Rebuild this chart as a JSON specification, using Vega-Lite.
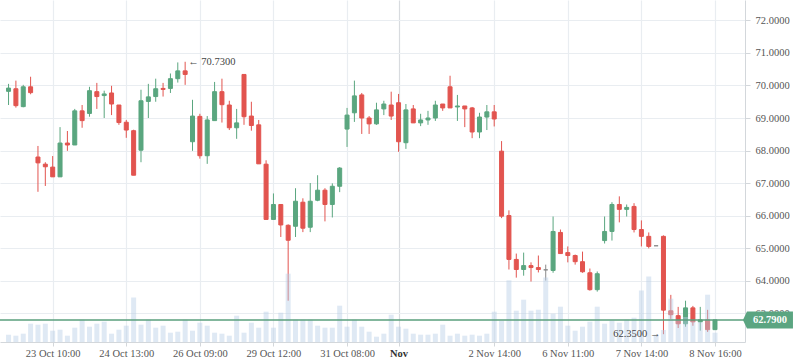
{
  "$schema": "https://vega.github.io/schema/vega-lite/v6.json",
  "width": 745,
  "height": 342,
  "autosize": {"type": "none"},
  "padding": {"left": 0, "top": 0, "right": 53, "bottom": 21},
  "background": "white",
  "config": {"view": {"stroke": null}, "font": "Liberation Serif"},
  "data": {"values": [
    {"i":0,"o":69.82,"h":70.05,"l":69.40,"c":69.92,"v":7.3},
    {"i":1,"o":69.90,"h":70.15,"l":69.32,"c":69.38,"v":6.3},
    {"i":2,"o":69.35,"h":70.02,"l":69.33,"c":69.96,"v":8.3},
    {"i":3,"o":69.96,"h":70.27,"l":69.73,"c":69.78,"v":18.3},
    {"i":4,"o":67.80,"h":68.14,"l":66.73,"c":67.62,"v":17.3},
    {"i":5,"o":67.58,"h":67.64,"l":66.91,"c":67.50,"v":18.3},
    {"i":6,"o":67.49,"h":67.83,"l":67.19,"c":67.19,"v":11.3},
    {"i":7,"o":67.19,"h":68.72,"l":67.19,"c":68.23,"v":12.3},
    {"i":8,"o":68.23,"h":68.60,"l":67.99,"c":68.17,"v":6.3},
    {"i":9,"o":68.17,"h":69.28,"l":68.17,"c":69.22,"v":14.3},
    {"i":10,"o":69.22,"h":69.40,"l":68.70,"c":68.92,"v":22.3},
    {"i":11,"o":69.14,"h":69.96,"l":69.04,"c":69.84,"v":15.3},
    {"i":12,"o":69.81,"h":70.08,"l":69.28,"c":69.66,"v":18.3},
    {"i":13,"o":69.69,"h":69.84,"l":69.00,"c":69.74,"v":20.3},
    {"i":14,"o":69.77,"h":69.99,"l":69.09,"c":69.43,"v":8.3},
    {"i":15,"o":69.40,"h":69.40,"l":68.79,"c":68.86,"v":12.3},
    {"i":16,"o":68.87,"h":68.94,"l":68.39,"c":68.63,"v":16.3},
    {"i":17,"o":68.61,"h":68.64,"l":67.24,"c":67.24,"v":44.5},
    {"i":18,"o":68.01,"h":69.87,"l":67.64,"c":69.53,"v":17.3},
    {"i":19,"o":69.51,"h":70.05,"l":69.00,"c":69.65,"v":22.3},
    {"i":20,"o":69.66,"h":70.21,"l":69.50,"c":69.90,"v":14.3},
    {"i":21,"o":69.91,"h":70.08,"l":69.66,"c":69.88,"v":16.3},
    {"i":22,"o":69.91,"h":70.37,"l":69.77,"c":70.21,"v":9.3},
    {"i":23,"o":70.21,"h":70.71,"l":70.09,"c":70.45,"v":10.3},
    {"i":24,"o":70.45,"h":70.73,"l":70.02,"c":70.34,"v":22.3},
    {"i":25,"o":68.27,"h":69.56,"l":67.99,"c":69.06,"v":11.3},
    {"i":26,"o":69.05,"h":69.13,"l":67.75,"c":67.84,"v":19.3},
    {"i":27,"o":67.84,"h":69.06,"l":67.59,"c":68.94,"v":16.3},
    {"i":28,"o":68.92,"h":70.11,"l":68.92,"c":69.81,"v":9.3},
    {"i":29,"o":69.81,"h":70.21,"l":68.86,"c":69.41,"v":8.3},
    {"i":30,"o":69.40,"h":69.53,"l":68.63,"c":68.70,"v":6.3},
    {"i":31,"o":68.70,"h":69.28,"l":68.36,"c":68.85,"v":26.3},
    {"i":32,"o":70.34,"h":70.34,"l":68.79,"c":69.04,"v":9.3},
    {"i":33,"o":69.06,"h":69.50,"l":68.61,"c":68.77,"v":19.3},
    {"i":34,"o":68.79,"h":68.94,"l":67.59,"c":67.59,"v":14.3},
    {"i":35,"o":67.58,"h":67.70,"l":65.88,"c":65.88,"v":30.3},
    {"i":36,"o":65.88,"h":66.68,"l":65.88,"c":66.34,"v":14.3},
    {"i":37,"o":66.34,"h":66.34,"l":65.34,"c":65.71,"v":29.3},
    {"i":38,"o":65.70,"h":65.73,"l":63.38,"c":65.24,"v":68.3},
    {"i":39,"o":65.67,"h":66.84,"l":65.34,"c":66.44,"v":22.3},
    {"i":40,"o":66.41,"h":66.53,"l":65.49,"c":65.61,"v":22.3},
    {"i":41,"o":65.64,"h":67.00,"l":65.49,"c":66.44,"v":22.3},
    {"i":42,"o":66.47,"h":67.24,"l":66.44,"c":66.78,"v":16.3},
    {"i":43,"o":66.78,"h":66.84,"l":65.82,"c":66.34,"v":14.3},
    {"i":44,"o":66.34,"h":66.99,"l":65.94,"c":66.90,"v":14.3},
    {"i":45,"o":66.90,"h":67.49,"l":66.72,"c":67.46,"v":36.3},
    {"i":46,"o":68.66,"h":69.31,"l":68.11,"c":69.09,"v":15.3},
    {"i":47,"o":69.16,"h":70.15,"l":68.88,"c":69.68,"v":22.3},
    {"i":48,"o":69.71,"h":69.77,"l":68.51,"c":69.00,"v":15.3},
    {"i":49,"o":69.00,"h":69.06,"l":68.51,"c":68.82,"v":10.3},
    {"i":50,"o":68.82,"h":69.47,"l":68.79,"c":69.25,"v":5.3},
    {"i":51,"o":69.28,"h":69.53,"l":69.09,"c":69.43,"v":8.3},
    {"i":52,"o":69.40,"h":69.81,"l":68.94,"c":69.06,"v":27.3},
    {"i":53,"o":69.47,"h":69.74,"l":67.96,"c":68.27,"v":15.3},
    {"i":54,"o":68.24,"h":69.43,"l":68.05,"c":69.25,"v":13.3},
    {"i":55,"o":69.28,"h":69.40,"l":68.85,"c":68.85,"v":8.3},
    {"i":56,"o":68.85,"h":69.13,"l":68.75,"c":68.94,"v":7.3},
    {"i":57,"o":68.94,"h":69.22,"l":68.79,"c":69.00,"v":7.3},
    {"i":58,"o":69.00,"h":69.53,"l":68.91,"c":69.40,"v":8.3},
    {"i":59,"o":69.43,"h":69.43,"l":69.22,"c":69.31,"v":17.3},
    {"i":60,"o":69.96,"h":70.30,"l":69.31,"c":69.31,"v":6.3},
    {"i":61,"o":69.34,"h":69.71,"l":68.91,"c":69.37,"v":8.3},
    {"i":62,"o":69.37,"h":69.37,"l":68.72,"c":69.28,"v":6.3},
    {"i":63,"o":69.31,"h":69.34,"l":68.38,"c":68.57,"v":7.3},
    {"i":64,"o":68.57,"h":69.16,"l":68.38,"c":69.03,"v":6.3},
    {"i":65,"o":69.03,"h":69.40,"l":68.63,"c":69.19,"v":8.3},
    {"i":66,"o":69.19,"h":69.40,"l":68.74,"c":68.97,"v":30.3},
    {"i":67,"o":67.98,"h":68.29,"l":65.92,"c":65.98,"v":21.3},
    {"i":68,"o":66.00,"h":66.16,"l":64.34,"c":64.65,"v":61.7},
    {"i":69,"o":64.65,"h":64.83,"l":64.09,"c":64.34,"v":31.3},
    {"i":70,"o":64.34,"h":64.86,"l":64.15,"c":64.46,"v":42.3},
    {"i":71,"o":64.46,"h":64.56,"l":63.97,"c":64.40,"v":31.3},
    {"i":72,"o":64.40,"h":64.77,"l":64.25,"c":64.34,"v":32.3},
    {"i":73,"o":64.33,"h":64.49,"l":64.00,"c":64.33,"v":64.5},
    {"i":74,"o":64.31,"h":65.97,"l":64.24,"c":65.51,"v":28.3},
    {"i":75,"o":65.48,"h":65.57,"l":64.83,"c":64.83,"v":35.3},
    {"i":76,"o":64.86,"h":65.05,"l":64.56,"c":64.77,"v":16.3},
    {"i":77,"o":64.77,"h":64.80,"l":64.49,"c":64.58,"v":11.3},
    {"i":78,"o":64.58,"h":64.89,"l":64.24,"c":64.27,"v":15.3},
    {"i":79,"o":64.24,"h":64.37,"l":63.69,"c":63.72,"v":20.3},
    {"i":80,"o":63.72,"h":64.28,"l":63.66,"c":64.21,"v":35.3},
    {"i":81,"o":65.23,"h":65.97,"l":65.14,"c":65.51,"v":18.3},
    {"i":82,"o":65.51,"h":66.41,"l":65.23,"c":66.34,"v":21.3},
    {"i":83,"o":66.34,"h":66.59,"l":65.79,"c":66.19,"v":19.3},
    {"i":84,"o":66.19,"h":66.34,"l":65.97,"c":66.25,"v":22.3},
    {"i":85,"o":66.28,"h":66.38,"l":65.48,"c":65.57,"v":24.3},
    {"i":86,"o":65.57,"h":65.85,"l":65.05,"c":65.36,"v":51.5},
    {"i":87,"o":65.36,"h":65.48,"l":64.99,"c":65.05,"v":65.5},
    {"i":88,"o":65.07,"h":65.07,"l":65.07,"c":65.07,"v":7.3},
    {"i":89,"o":65.36,"h":65.39,"l":62.35,"c":63.09,"v":12},
    {"i":90,"o":63.07,"h":63.56,"l":62.82,"c":62.95,"v":43.3},
    {"i":91,"o":62.92,"h":63.19,"l":62.54,"c":62.67,"v":22},
    {"i":92,"o":62.67,"h":63.38,"l":62.58,"c":63.16,"v":25},
    {"i":93,"o":63.16,"h":63.22,"l":62.61,"c":62.73,"v":21},
    {"i":94,"o":62.73,"h":63.19,"l":62.46,"c":62.79,"v":20},
    {"i":95,"o":62.79,"h":63.10,"l":62.42,"c":62.49,"v":47.3},
    {"i":96,"o":62.49,"h":62.79,"l":62.49,"c":62.79,"v":9.3}
  ]},
  "layer": [
    {
      "mark": {"type": "rule", "strokeWidth": 1},
      "encoding": {
        "x": {"field": "i", "type": "quantitative",
          "scale": {"domain": [-0.48, 99.4], "nice": false, "zero": false},
          "axis": {
            "values": [6, 16, 26, 36, 46, 53, 66, 76, 86, 96],
            "labelExpr": "datum.value==6?'23 Oct 10:00':datum.value==16?'24 Oct 13:00':datum.value==26?'26 Oct 09:00':datum.value==36?'29 Oct 12:00':datum.value==46?'31 Oct 08:00':datum.value==53?'Nov':datum.value==66?'2 Nov 14:00':datum.value==76?'6 Nov 11:00':datum.value==86?'7 Nov 14:00':datum.value==96?'8 Nov 16:00':''",
            "title": null,
            "grid": true,
            "gridColor": {"condition": {"test": "datum.value==53", "value": "#d8dbdf"}, "value": "#e9edf1"},
            "gridWidth": 1.2,
            "labelFontWeight": {"condition": {"test": "datum.value==53", "value": "bold"}, "value": "normal"},
            "labelColor": {"condition": {"test": "datum.value==53", "value": "#333333"}, "value": "#555555"},
            "labelFont": "Liberation Serif",
            "labelFontSize": 10.5,
            "labelPadding": 2,
            "labelOverlap": false,
            "labelFlush": false,
            "domainColor": "#d3d7db",
            "tickColor": "#d3d7db",
            "tickSize": 4
          }
        },
        "y": {"field": "l", "type": "quantitative",
          "scale": {"domain": [62.11, 72.63], "nice": false, "zero": false},
          "axis": {
            "orient": "right",
            "values": [63, 64, 65, 66, 67, 68, 69, 70, 71, 72],
            "format": ".4f",
            "title": null,
            "grid": true,
            "gridColor": "#e9edf1",
            "gridWidth": 1.2,
            "labelColor": "#555555",
            "labelFont": "Liberation Serif",
            "labelFontSize": 10.5,
            "labelPadding": 5,
            "domainColor": "#d3d7db",
            "tickColor": "#d3d7db",
            "tickSize": 5
          }
        },
        "y2": {"field": "h"},
        "color": {
          "condition": [
            {"test": "datum.c > datum.o", "value": "#5aa67f"},
            {"test": "datum.c == datum.o", "value": "#8a8a8a"}
          ],
          "value": "#e2544f"
        }
      }
    },
    {
      "mark": {"type": "bar", "size": 4, "strokeWidth": 1},
      "encoding": {
        "x": {"field": "i", "type": "quantitative",
          "scale": {"domain": [-0.48, 99.4], "nice": false, "zero": false},
          "axis": {
            "values": [6, 16, 26, 36, 46, 53, 66, 76, 86, 96],
            "labelExpr": "datum.value==6?'23 Oct 10:00':datum.value==16?'24 Oct 13:00':datum.value==26?'26 Oct 09:00':datum.value==36?'29 Oct 12:00':datum.value==46?'31 Oct 08:00':datum.value==53?'Nov':datum.value==66?'2 Nov 14:00':datum.value==76?'6 Nov 11:00':datum.value==86?'7 Nov 14:00':datum.value==96?'8 Nov 16:00':''",
            "title": null,
            "grid": true,
            "gridColor": {"condition": {"test": "datum.value==53", "value": "#d8dbdf"}, "value": "#e9edf1"},
            "gridWidth": 1.2,
            "labelFontWeight": {"condition": {"test": "datum.value==53", "value": "bold"}, "value": "normal"},
            "labelColor": {"condition": {"test": "datum.value==53", "value": "#333333"}, "value": "#555555"},
            "labelFont": "Liberation Serif",
            "labelFontSize": 10.5,
            "labelPadding": 2,
            "labelOverlap": false,
            "labelFlush": false,
            "domainColor": "#d3d7db",
            "tickColor": "#d3d7db",
            "tickSize": 4
          }
        },
        "y": {"field": "o", "type": "quantitative",
          "scale": {"domain": [62.11, 72.63], "nice": false, "zero": false}, "axis": null},
        "y2": {"field": "c"},
        "fill": {
          "condition": [
            {"test": "datum.c > datum.o", "value": "#5aa67f"},
            {"test": "datum.c == datum.o", "value": "#8a8a8a"}
          ],
          "value": "#e2544f"
        },
        "stroke": {
          "condition": [
            {"test": "datum.c > datum.o", "value": "#5aa67f"},
            {"test": "datum.c == datum.o", "value": "#8a8a8a"}
          ],
          "value": "#e2544f"
        }
      }
    },
    {
      "mark": {"type": "bar", "size": 5, "fill": "#b8cfe6", "fillOpacity": 0.45},
      "encoding": {
        "x": {"field": "i", "type": "quantitative",
          "scale": {"domain": [-0.48, 99.4], "nice": false, "zero": false},
          "axis": {
            "values": [6, 16, 26, 36, 46, 53, 66, 76, 86, 96],
            "labelExpr": "datum.value==6?'23 Oct 10:00':datum.value==16?'24 Oct 13:00':datum.value==26?'26 Oct 09:00':datum.value==36?'29 Oct 12:00':datum.value==46?'31 Oct 08:00':datum.value==53?'Nov':datum.value==66?'2 Nov 14:00':datum.value==76?'6 Nov 11:00':datum.value==86?'7 Nov 14:00':datum.value==96?'8 Nov 16:00':''",
            "title": null,
            "grid": true,
            "gridColor": {"condition": {"test": "datum.value==53", "value": "#d8dbdf"}, "value": "#e9edf1"},
            "gridWidth": 1.2,
            "labelFontWeight": {"condition": {"test": "datum.value==53", "value": "bold"}, "value": "normal"},
            "labelColor": {"condition": {"test": "datum.value==53", "value": "#333333"}, "value": "#555555"},
            "labelFont": "Liberation Serif",
            "labelFontSize": 10.5,
            "labelPadding": 2,
            "labelOverlap": false,
            "labelFlush": false,
            "domainColor": "#d3d7db",
            "tickColor": "#d3d7db",
            "tickSize": 4
          }
        },
        "y": {"field": "v", "type": "quantitative",
          "scale": {"domain": [0, 342], "nice": false, "zero": true}, "axis": null}
      }
    },
    {
      "data": {"values": [{"p": 62.79}]},
      "mark": {"type": "rule", "color": "#5a9f7c", "strokeWidth": 1.5},
      "encoding": {
        "y": {"field": "p", "type": "quantitative",
          "scale": {"domain": [62.11, 72.63], "nice": false, "zero": false}, "axis": null}
      }
    },
    {
      "data": {"values": [
        {"i": 24, "p": 70.73, "label": "← 70.7300", "al": "left"},
        {"i": 89, "p": 62.35, "label": "62.3500 →", "al": "right"}
      ]},
      "layer": [
        {
          "transform": [{"filter": "datum.al == 'left'"}],
          "mark": {"type": "text", "align": "left", "baseline": "middle", "dx": 3, "font": "Liberation Serif", "fontSize": 10.5, "color": "#444444"},
          "encoding": {
            "x": {"field": "i", "type": "quantitative",
              "scale": {"domain": [-0.48, 99.4], "nice": false, "zero": false},
              "axis": {
                "values": [6, 16, 26, 36, 46, 53, 66, 76, 86, 96],
                "labelExpr": "datum.value==6?'23 Oct 10:00':datum.value==16?'24 Oct 13:00':datum.value==26?'26 Oct 09:00':datum.value==36?'29 Oct 12:00':datum.value==46?'31 Oct 08:00':datum.value==53?'Nov':datum.value==66?'2 Nov 14:00':datum.value==76?'6 Nov 11:00':datum.value==86?'7 Nov 14:00':datum.value==96?'8 Nov 16:00':''",
                "title": null,
                "grid": true,
                "gridColor": {"condition": {"test": "datum.value==53", "value": "#d8dbdf"}, "value": "#e9edf1"},
                "gridWidth": 1.2,
                "labelFontWeight": {"condition": {"test": "datum.value==53", "value": "bold"}, "value": "normal"},
                "labelColor": {"condition": {"test": "datum.value==53", "value": "#333333"}, "value": "#555555"},
                "labelFont": "Liberation Serif",
                "labelFontSize": 10.5,
                "labelPadding": 2,
                "labelOverlap": false,
                "labelFlush": false,
                "domainColor": "#d3d7db",
                "tickColor": "#d3d7db",
                "tickSize": 4
              }
            },
            "y": {"field": "p", "type": "quantitative",
              "scale": {"domain": [62.11, 72.63], "nice": false, "zero": false}, "axis": null},
            "text": {"field": "label"}
          }
        },
        {
          "transform": [{"filter": "datum.al == 'right'"}],
          "mark": {"type": "text", "align": "right", "baseline": "middle", "dx": -3, "font": "Liberation Serif", "fontSize": 10.5, "color": "#444444"},
          "encoding": {
            "x": {"field": "i", "type": "quantitative",
              "scale": {"domain": [-0.48, 99.4], "nice": false, "zero": false},
              "axis": {
                "values": [6, 16, 26, 36, 46, 53, 66, 76, 86, 96],
                "labelExpr": "datum.value==6?'23 Oct 10:00':datum.value==16?'24 Oct 13:00':datum.value==26?'26 Oct 09:00':datum.value==36?'29 Oct 12:00':datum.value==46?'31 Oct 08:00':datum.value==53?'Nov':datum.value==66?'2 Nov 14:00':datum.value==76?'6 Nov 11:00':datum.value==86?'7 Nov 14:00':datum.value==96?'8 Nov 16:00':''",
                "title": null,
                "grid": true,
                "gridColor": {"condition": {"test": "datum.value==53", "value": "#d8dbdf"}, "value": "#e9edf1"},
                "gridWidth": 1.2,
                "labelFontWeight": {"condition": {"test": "datum.value==53", "value": "bold"}, "value": "normal"},
                "labelColor": {"condition": {"test": "datum.value==53", "value": "#333333"}, "value": "#555555"},
                "labelFont": "Liberation Serif",
                "labelFontSize": 10.5,
                "labelPadding": 2,
                "labelOverlap": false,
                "labelFlush": false,
                "domainColor": "#d3d7db",
                "tickColor": "#d3d7db",
                "tickSize": 4
              }
            },
            "y": {"field": "p", "type": "quantitative",
              "scale": {"domain": [62.11, 72.63], "nice": false, "zero": false}, "axis": null},
            "text": {"field": "label"}
          }
        }
      ]
    },
    {
      "data": {"values": [{"p": 62.79, "label": "62.7900"}]},
      "layer": [
        {
          "mark": {"type": "point", "filled": true, "size": 2500, "opacity": 1, "color": "#5ba581",
            "shape": "M -1 0 L -0.84 -0.34 L 1 -0.34 L 1 0.34 L -0.84 0.34 Z"},
          "encoding": {
            "x": {"datum": 103.2, "type": "quantitative",
              "scale": {"domain": [-0.48, 99.4], "nice": false, "zero": false},
              "axis": {
                "values": [6, 16, 26, 36, 46, 53, 66, 76, 86, 96],
                "labelExpr": "datum.value==6?'23 Oct 10:00':datum.value==16?'24 Oct 13:00':datum.value==26?'26 Oct 09:00':datum.value==36?'29 Oct 12:00':datum.value==46?'31 Oct 08:00':datum.value==53?'Nov':datum.value==66?'2 Nov 14:00':datum.value==76?'6 Nov 11:00':datum.value==86?'7 Nov 14:00':datum.value==96?'8 Nov 16:00':''",
                "title": null,
                "grid": true,
                "gridColor": {"condition": {"test": "datum.value==53", "value": "#d8dbdf"}, "value": "#e9edf1"},
                "gridWidth": 1.2,
                "labelFontWeight": {"condition": {"test": "datum.value==53", "value": "bold"}, "value": "normal"},
                "labelColor": {"condition": {"test": "datum.value==53", "value": "#333333"}, "value": "#555555"},
                "labelFont": "Liberation Serif",
                "labelFontSize": 10.5,
                "labelPadding": 2,
                "labelOverlap": false,
                "labelFlush": false,
                "domainColor": "#d3d7db",
                "tickColor": "#d3d7db",
                "tickSize": 4
              }
            },
            "y": {"field": "p", "type": "quantitative",
              "scale": {"domain": [62.11, 72.63], "nice": false, "zero": false}, "axis": null}
          }
        },
        {
          "mark": {"type": "text", "align": "center", "baseline": "middle", "dx": 2, "font": "Liberation Serif", "fontSize": 10.5, "fontWeight": "bold", "color": "white"},
          "encoding": {
            "x": {"datum": 103.2, "type": "quantitative",
              "scale": {"domain": [-0.48, 99.4], "nice": false, "zero": false},
              "axis": {
                "values": [6, 16, 26, 36, 46, 53, 66, 76, 86, 96],
                "labelExpr": "datum.value==6?'23 Oct 10:00':datum.value==16?'24 Oct 13:00':datum.value==26?'26 Oct 09:00':datum.value==36?'29 Oct 12:00':datum.value==46?'31 Oct 08:00':datum.value==53?'Nov':datum.value==66?'2 Nov 14:00':datum.value==76?'6 Nov 11:00':datum.value==86?'7 Nov 14:00':datum.value==96?'8 Nov 16:00':''",
                "title": null,
                "grid": true,
                "gridColor": {"condition": {"test": "datum.value==53", "value": "#d8dbdf"}, "value": "#e9edf1"},
                "gridWidth": 1.2,
                "labelFontWeight": {"condition": {"test": "datum.value==53", "value": "bold"}, "value": "normal"},
                "labelColor": {"condition": {"test": "datum.value==53", "value": "#333333"}, "value": "#555555"},
                "labelFont": "Liberation Serif",
                "labelFontSize": 10.5,
                "labelPadding": 2,
                "labelOverlap": false,
                "labelFlush": false,
                "domainColor": "#d3d7db",
                "tickColor": "#d3d7db",
                "tickSize": 4
              }
            },
            "y": {"field": "p", "type": "quantitative",
              "scale": {"domain": [62.11, 72.63], "nice": false, "zero": false}, "axis": null},
            "text": {"field": "label"}
          }
        }
      ]
    }
  ],
  "resolve": {"scale": {"y": "independent"}}
}
